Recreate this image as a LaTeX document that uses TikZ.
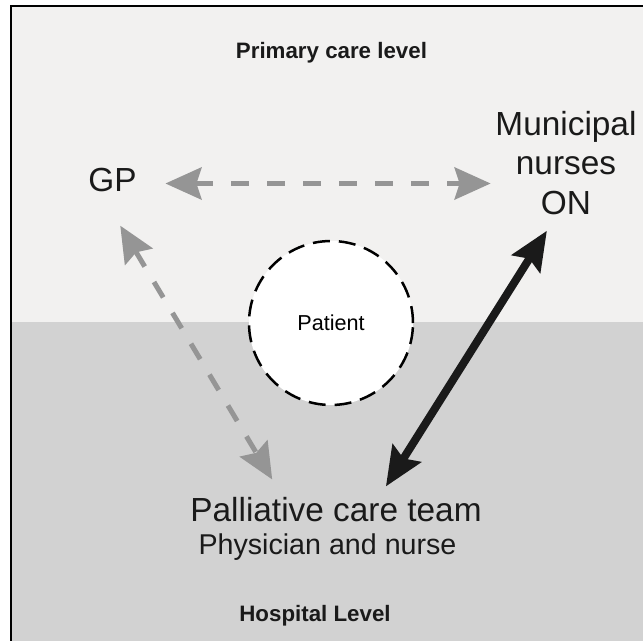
\documentclass[tikz,border=0pt]{standalone}
\usepackage{fontspec}
\setmainfont{Liberation Sans}
\usepackage{tikz}
\usetikzlibrary{positioning}
\usetikzlibrary{arrows.meta}
\definecolor{primarybg}{HTML}{F2F1F0}
\definecolor{hospitalbg}{HTML}{D2D2D2}
\definecolor{linkgray}{HTML}{959595}
\definecolor{inkblack}{HTML}{1A1A1A}
\tikzset{txt/.style={inner sep=0pt, text=inkblack}}
\tikzset{bigtxt/.style={txt, font=\fontsize{19}{22.7}\selectfont}}
\tikzset{leveltxt/.style={txt, anchor=base, font=\fontsize{12.7}{15}\selectfont\bfseries}}
\tikzset{grayarrow/.style={draw=linkgray, line width=0.1cm, dash pattern=on 0.36cm off 0.36cm,
  {Stealth[length=0.72cm,width=0.64cm,inset=0.1cm]}-{Stealth[length=0.72cm,width=0.64cm,inset=0.1cm]}}}
\tikzset{blackarrow/.style={draw=inkblack, line width=0.16cm,
  {Stealth[length=0.78cm,width=0.66cm,inset=0.12cm]}-{Stealth[length=0.78cm,width=0.66cm,inset=0.12cm]}}}

\begin{document}
\begin{tikzpicture}[x=0.02cm,y=-0.02cm]
\useasboundingbox (0,0) rectangle (643,641);
\fill[primarybg] (11,6) rectangle (643,322);
\fill[hospitalbg] (11,322) rectangle (643,641);
\draw[line width=0.055cm] (11,641) -- (11,6) -- (643,6);
\node[leveltxt] (primary) at (331.5,59) {Primary care level};
\node[leveltxt] (hospital) at (315,622) {Hospital Level};
\node[bigtxt, anchor=base] (gp) at (112.5,192) {GP};
\node[bigtxt, align=center] (nurses) at (566,163) {Municipal\\nurses\\ON};
\node[circle, draw=black, line width=0.05cm, dash pattern=on 0.34cm off 0.18cm, fill=white,
  minimum size=3.28cm, font=\fontsize{12.3}{14}\selectfont] (patient) at (331,323) {Patient};
\node[bigtxt, anchor=base] (pct) at (336,522) {Palliative care team};
\node[txt, anchor=base, font=\fontsize{16.3}{19}\selectfont] (phys) at (327.5,555) {Physician and nurse};
% links between the care givers
\draw[grayarrow, shorten <=0.57cm, shorten >=0.09cm] ([yshift=-0.06cm]gp.east) -- ([yshift=-0.06cm]gp.east -| nurses.west);
\draw[grayarrow, shorten <=0.77cm, shorten >=0.42cm] ([xshift=-0.24cm]gp.south) -- ([xshift=1.86cm]pct.north west);
\draw[blackarrow, shorten <=0.36cm, shorten >=0.26cm] ([xshift=-0.19cm]nurses.south) -- ([xshift=3.78cm]pct.north west);
\end{tikzpicture}
\end{document}
